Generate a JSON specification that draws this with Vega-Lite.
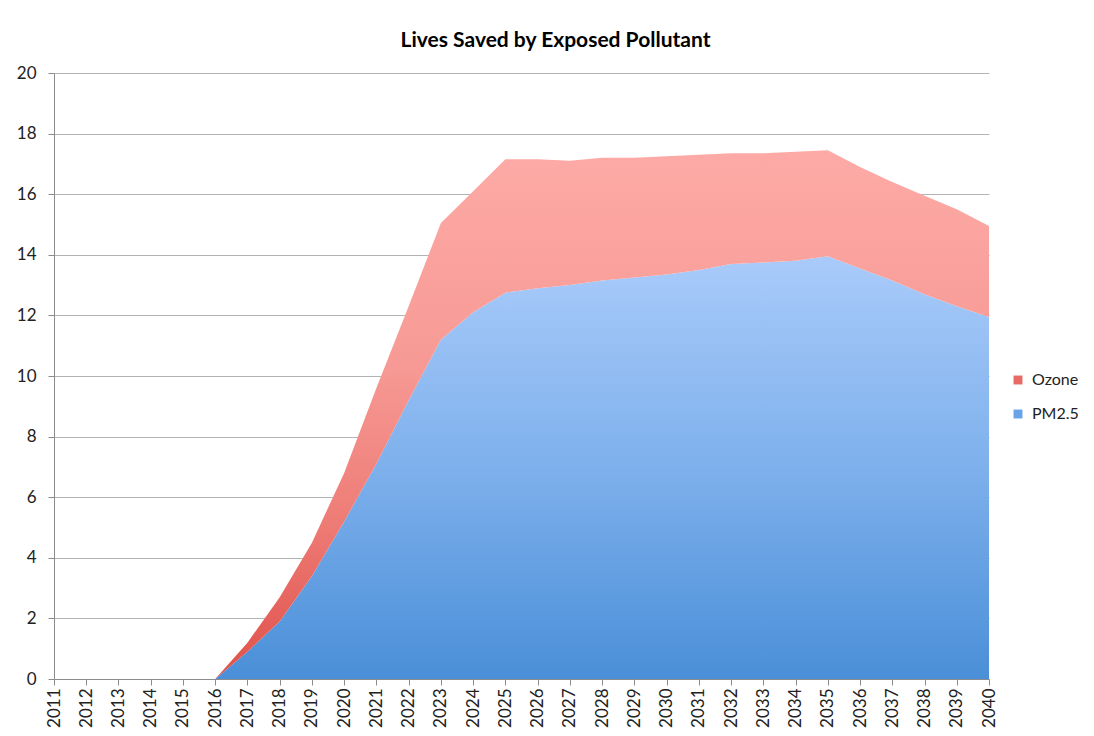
{
  "$schema": "https://vega.github.io/schema/vega-lite/v6.json",
  "width": 935,
  "height": 606,
  "autosize": {"type": "none"},
  "padding": {"left": 54, "top": 73, "right": 105, "bottom": 57},
  "background": "white",
  "title": {"text": "Lives Saved by Exposed Pollutant", "font": "Lato", "fontSize": 21, "fontWeight": "bold", "color": "#000000", "anchor": "middle", "offset": 13, "dx": 34},
  "data": {"values": [
    {"year": 2011, "series": "PM2.5", "value": 0}, {"year": 2011, "series": "Ozone", "value": 0},
    {"year": 2012, "series": "PM2.5", "value": 0}, {"year": 2012, "series": "Ozone", "value": 0},
    {"year": 2013, "series": "PM2.5", "value": 0}, {"year": 2013, "series": "Ozone", "value": 0},
    {"year": 2014, "series": "PM2.5", "value": 0}, {"year": 2014, "series": "Ozone", "value": 0},
    {"year": 2015, "series": "PM2.5", "value": 0}, {"year": 2015, "series": "Ozone", "value": 0},
    {"year": 2016, "series": "PM2.5", "value": 0}, {"year": 2016, "series": "Ozone", "value": 0},
    {"year": 2017, "series": "PM2.5", "value": 0.9}, {"year": 2017, "series": "Ozone", "value": 0.3},
    {"year": 2018, "series": "PM2.5", "value": 1.9}, {"year": 2018, "series": "Ozone", "value": 0.8},
    {"year": 2019, "series": "PM2.5", "value": 3.4}, {"year": 2019, "series": "Ozone", "value": 1.1},
    {"year": 2020, "series": "PM2.5", "value": 5.2}, {"year": 2020, "series": "Ozone", "value": 1.6},
    {"year": 2021, "series": "PM2.5", "value": 7.1}, {"year": 2021, "series": "Ozone", "value": 2.5},
    {"year": 2022, "series": "PM2.5", "value": 9.2}, {"year": 2022, "series": "Ozone", "value": 3.1},
    {"year": 2023, "series": "PM2.5", "value": 11.2}, {"year": 2023, "series": "Ozone", "value": 3.85},
    {"year": 2024, "series": "PM2.5", "value": 12.1}, {"year": 2024, "series": "Ozone", "value": 4.0},
    {"year": 2025, "series": "PM2.5", "value": 12.75}, {"year": 2025, "series": "Ozone", "value": 4.4},
    {"year": 2026, "series": "PM2.5", "value": 12.9}, {"year": 2026, "series": "Ozone", "value": 4.25},
    {"year": 2027, "series": "PM2.5", "value": 13.0}, {"year": 2027, "series": "Ozone", "value": 4.1},
    {"year": 2028, "series": "PM2.5", "value": 13.15}, {"year": 2028, "series": "Ozone", "value": 4.05},
    {"year": 2029, "series": "PM2.5", "value": 13.25}, {"year": 2029, "series": "Ozone", "value": 3.95},
    {"year": 2030, "series": "PM2.5", "value": 13.35}, {"year": 2030, "series": "Ozone", "value": 3.9},
    {"year": 2031, "series": "PM2.5", "value": 13.5}, {"year": 2031, "series": "Ozone", "value": 3.8},
    {"year": 2032, "series": "PM2.5", "value": 13.7}, {"year": 2032, "series": "Ozone", "value": 3.65},
    {"year": 2033, "series": "PM2.5", "value": 13.75}, {"year": 2033, "series": "Ozone", "value": 3.6},
    {"year": 2034, "series": "PM2.5", "value": 13.8}, {"year": 2034, "series": "Ozone", "value": 3.6},
    {"year": 2035, "series": "PM2.5", "value": 13.95}, {"year": 2035, "series": "Ozone", "value": 3.5},
    {"year": 2036, "series": "PM2.5", "value": 13.55}, {"year": 2036, "series": "Ozone", "value": 3.35},
    {"year": 2037, "series": "PM2.5", "value": 13.15}, {"year": 2037, "series": "Ozone", "value": 3.25},
    {"year": 2038, "series": "PM2.5", "value": 12.7}, {"year": 2038, "series": "Ozone", "value": 3.25},
    {"year": 2039, "series": "PM2.5", "value": 12.3}, {"year": 2039, "series": "Ozone", "value": 3.2},
    {"year": 2040, "series": "PM2.5", "value": 11.95}, {"year": 2040, "series": "Ozone", "value": 3.0}
  ]},
  "transform": [
    {"stack": "value", "groupby": ["year"], "sort": [{"field": "series", "order": "descending"}], "as": ["v0", "v1"]}
  ],
  "encoding": {
    "x": {
      "field": "year", "type": "ordinal",
      "scale": {"type": "point", "padding": 0},
      "axis": {"title": null, "labelAngle": 270, "grid": false, "ticks": true, "tickSize": 6, "tickColor": "#8c8c8c", "domainColor": "#8c8c8c", "labelPadding": 3, "labelFont": "Lato", "labelFontSize": 17, "labelColor": "#222222"}
    }
  },
  "layer": [
    {
      "transform": [{"filter": "datum.series === 'PM2.5'"}],
      "mark": {"type": "area", "interpolate": "linear", "fill": {"gradient": "linear", "x1": 0, "y1": 0, "x2": 0, "y2": 1, "stops": [{"offset": 0, "color": "#a9cbfa"}, {"offset": 0.5, "color": "#7eb0ec"}, {"offset": 1, "color": "#4a8fd8"}]}},
      "encoding": {
        "y": {"field": "v1", "type": "quantitative", "scale": {"domain": [0, 20], "nice": false},
          "axis": {"title": null, "values": [0, 2, 4, 6, 8, 10, 12, 14, 16, 18, 20], "grid": true, "gridColor": "#b3b3b3", "gridWidth": 1, "domainColor": "#8c8c8c", "tickColor": "#8c8c8c", "tickSize": 6, "labelPadding": 12, "labelFont": "Lato", "labelFontSize": 17, "labelColor": "#222222"}},
        "y2": {"field": "v0"}
      }
    },
    {
      "transform": [{"filter": "datum.series === 'Ozone'"}],
      "mark": {"type": "area", "interpolate": "linear", "fill": {"gradient": "linear", "x1": 0, "y1": 0, "x2": 0, "y2": 1, "stops": [{"offset": 0, "color": "#fdaaa6"}, {"offset": 0.4, "color": "#f79a95"}, {"offset": 0.7, "color": "#ee7c76"}, {"offset": 1, "color": "#e0504a"}]}},
      "encoding": {
        "y": {"field": "v1", "type": "quantitative"},
        "y2": {"field": "v0"}
      }
    },
    {
      "transform": [{"filter": "false"}],
      "mark": {"type": "square", "opacity": 1},
      "encoding": {
        "color": {"field": "series", "type": "nominal",
          "scale": {"domain": ["Ozone", "PM2.5"], "range": ["#e86a66", "#6aa3e8"]},
          "legend": {"title": null, "orient": "none", "legendX": 956, "legendY": 299, "symbolType": "square", "symbolSize": 80, "labelFont": "Lato", "labelFontSize": 16, "labelColor": "#222222", "rowPadding": 18, "labelOffset": 6}}
      }
    }
  ],
  "config": {"view": {"stroke": null}}
}
